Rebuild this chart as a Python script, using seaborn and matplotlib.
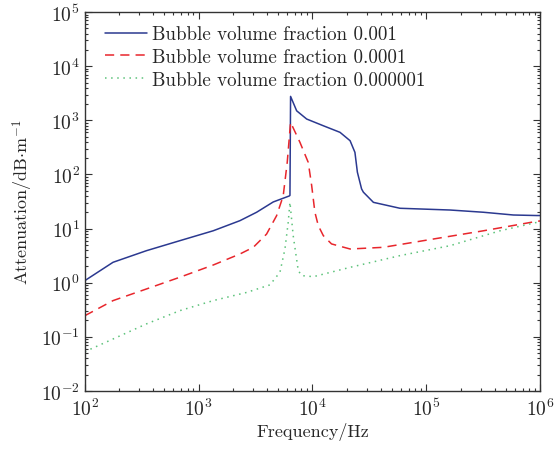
import numpy as np
import pandas as pd
import matplotlib
matplotlib.use("Agg")
import matplotlib.pyplot as plt
import seaborn as sns

# ---- data (Hz, dB/m) ----
freq_a = [100, 177, 348, 684, 1343, 2307, 3230, 4520, 6250, 6340, 6420,
          7260, 8890, 12450, 17450, 21400, 23600, 24800, 27000, 28000,
          34300, 58700, 162000, 318000, 582000, 933000, 1000000]
att_a = [1.09, 2.38, 3.9, 5.97, 9.1, 14, 20, 31, 40, 41, 2770,
         1500, 1057, 794, 600, 420, 256, 110, 54, 47,
         30.5, 23.7, 22, 20, 17.8, 17.4, 17.4]

freq_b = [100, 177, 348, 684, 1343, 2307, 3020, 3950, 4840, 5530, 6000,
          6420, 7760, 9180, 9840, 10500, 11250, 12450, 14700, 21400,
          41900, 115000, 318000, 933000, 1000000]
att_b = [0.245, 0.466, 0.765, 1.26, 2.12, 3.39, 4.5, 7.9, 17.3, 40, 167,
         918, 392, 167, 62, 20, 11.3, 7.4, 5.2, 4.19,
         4.5, 6.4, 9.1, 13.6, 13.8]

freq_c = [100, 177, 348, 684, 1343, 2640, 4230, 5180, 5730, 6120, 6340,
          6770, 7500, 8040, 10200, 21400, 58700, 162000, 445000, 933000,
          1000000]
att_c = [0.053, 0.091, 0.173, 0.304, 0.466, 0.66, 0.91, 1.56, 4.2, 13, 30.5,
         7.4, 1.67, 1.35, 1.29, 1.92, 3.16, 4.83, 9.1, 13, 13.5]

labels = ["Bubble volume fraction 0.001",
          "Bubble volume fraction 0.0001",
          "Bubble volume fraction 0.000001"]

df = pd.concat([
    pd.DataFrame({"f": freq_a, "a": att_a, "s": labels[0]}),
    pd.DataFrame({"f": freq_b, "a": att_b, "s": labels[1]}),
    pd.DataFrame({"f": freq_c, "a": att_c, "s": labels[2]}),
])

sns.set_theme(style="ticks")
plt.rcParams["font.family"] = ["cmr10", "DejaVu Serif"]
plt.rcParams["mathtext.fontset"] = "cm"
plt.rcParams["axes.formatter.use_mathtext"] = True

fig = plt.figure(figsize=(5.58, 4.52), dpi=100)
ax = fig.add_axes([0.152, 0.133, 0.816, 0.838])

colors = ["#2b3990", "#e8262c", "#5cc27a"]
styles = {labels[0]: "", labels[1]: (6, 4), labels[2]: (1, 3)}
sns.lineplot(data=df, x="f", y="a", hue="s", style="s", dashes=styles,
             palette=colors, ax=ax, linewidth=1.1, sort=False, estimator=None)

ax.set_xscale("log")
ax.set_yscale("log")
ax.set_xlim(1e2, 1e6)
ax.set_ylim(1e-2, 1e5)
ax.tick_params(which="both", direction="in", top=True, right=True,
               labelsize=14, width=0.8, color="#333333")
ax.tick_params(which="major", length=5)
ax.tick_params(which="minor", length=2.5)
ax.tick_params(axis="x", pad=5)
for sp in ax.spines.values():
    sp.set_linewidth(1.0)
    sp.set_color("#333333")

ax.set_xlabel("Frequency/Hz", fontsize=13, labelpad=2)
ax.set_ylabel(r"Attenuation/dB$\cdot$m$^{-1}$", fontsize=13)

ax.legend(loc="upper left", bbox_to_anchor=(0.044, 0.965), frameon=False,
          fontsize=13.7, handlelength=2.2, handletextpad=0.3,
          borderaxespad=0, borderpad=0, labelspacing=0.25)

fig.savefig("out.png", dpi=100)
